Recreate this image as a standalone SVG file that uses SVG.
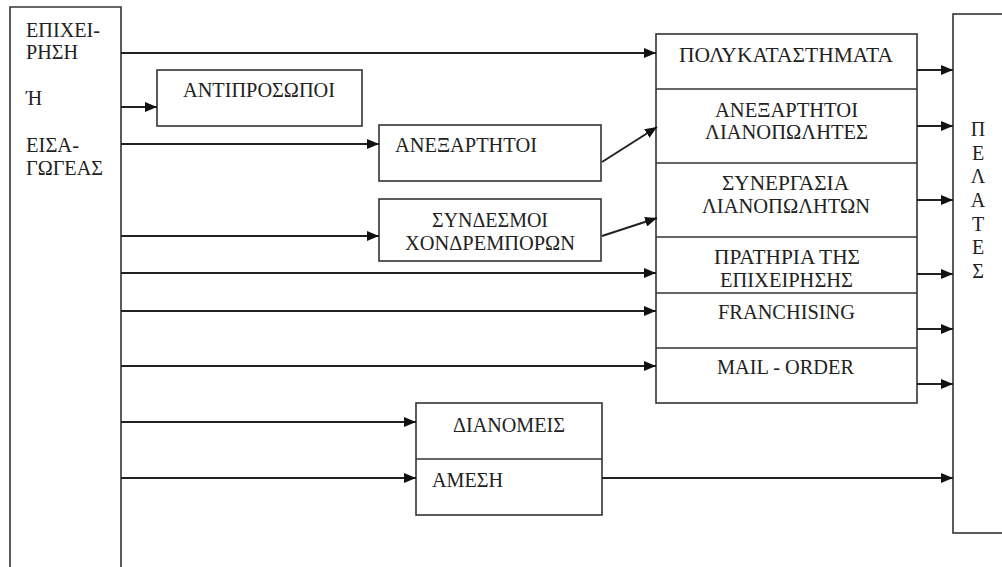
<svg xmlns="http://www.w3.org/2000/svg" width="1002" height="567" viewBox="0 0 1002 567">
<defs>
<style>
.box{fill:#fff;stroke:#333;stroke-width:1.6}
.ln{fill:none;stroke:#222;stroke-width:2}
.t{font-family:'Liberation Serif','DejaVu Serif',serif;font-size:20px;fill:#222}
.c{text-anchor:middle}
</style>
<marker id="ah" viewBox="0 0 12 10" refX="12" refY="5" markerWidth="12" markerHeight="10" markerUnits="userSpaceOnUse" orient="auto">
<path d="M0,0 L12,5 L0,10 Z" fill="#111"/>
</marker>
</defs>
<rect width="1002" height="567" fill="#fff"/>

<g id="source">
<path class="box" d="M10,570 V7 H121 V570"/>
<text class="t" x="26" y="37" textLength="74" lengthAdjust="spacingAndGlyphs">ΕΠΙΧΕΙ-</text>
<text class="t" x="26" y="59" textLength="52" lengthAdjust="spacingAndGlyphs">ΡΗΣΗ</text>
<text class="t" x="26" y="105">Ή</text>
<text class="t" x="26" y="152" textLength="53" lengthAdjust="spacingAndGlyphs">ΕΙΣΑ-</text>
<text class="t" x="26" y="175" textLength="77" lengthAdjust="spacingAndGlyphs">ΓΩΓΕΑΣ</text>
</g>

<g id="customers">
<rect class="box" x="953" y="14" width="60" height="519"/>
<text class="t c" x="978" y="136">Π</text>
<text class="t c" x="978" y="160">Ε</text>
<text class="t c" x="978" y="183">Λ</text>
<text class="t c" x="978" y="207">Α</text>
<text class="t c" x="978" y="231">Τ</text>
<text class="t c" x="978" y="254">Ε</text>
<text class="t c" x="978" y="278">Σ</text>
</g>

<g id="antiprosopoi">
<rect class="box" x="157" y="70" width="205" height="56"/>
<text class="t" x="183" y="97" textLength="152" lengthAdjust="spacingAndGlyphs">ΑΝΤΙΠΡΟΣΩΠΟΙ</text>
</g>

<g id="anexartitoi">
<rect class="box" x="379" y="125" width="222" height="56"/>
<text class="t" x="395" y="152" textLength="142" lengthAdjust="spacingAndGlyphs">ΑΝΕΞΑΡΤΗΤΟΙ</text>
</g>

<g id="syndesmoi">
<rect class="box" x="379" y="199" width="222" height="62"/>
<text class="t" x="432" y="227" textLength="116" lengthAdjust="spacingAndGlyphs">ΣΥΝΔΕΣΜΟΙ</text>
<text class="t" x="405" y="250" textLength="170" lengthAdjust="spacingAndGlyphs">ΧΟΝΔΡΕΜΠΟΡΩΝ</text>
</g>

<g id="retail-column">
<rect class="box" x="656" y="34" width="261" height="369"/>
<line class="box" x1="656" y1="89" x2="917" y2="89"/>
<line class="box" x1="656" y1="163" x2="917" y2="163"/>
<line class="box" x1="656" y1="237" x2="917" y2="237"/>
<line class="box" x1="656" y1="293" x2="917" y2="293"/>
<line class="box" x1="656" y1="348" x2="917" y2="348"/>
</g>
<g id="polykatastimata"><text class="t" x="679" y="62" textLength="214" lengthAdjust="spacingAndGlyphs">ΠΟΛΥΚΑΤΑΣΤΗΜΑΤΑ</text></g>
<g id="anexartitoi-lianopolites">
<text class="t" x="715" y="117" textLength="143" lengthAdjust="spacingAndGlyphs">ΑΝΕΞΑΡΤΗΤΟΙ</text>
<text class="t" x="705" y="139" textLength="163" lengthAdjust="spacingAndGlyphs">ΛΙΑΝΟΠΩΛΗΤΕΣ</text>
</g>
<g id="synergasia">
<text class="t" x="722" y="190" textLength="127" lengthAdjust="spacingAndGlyphs">ΣΥΝΕΡΓΑΣΙΑ</text>
<text class="t" x="702" y="213" textLength="168" lengthAdjust="spacingAndGlyphs">ΛΙΑΝΟΠΩΛΗΤΩΝ</text>
</g>
<g id="pratiria">
<text class="t" x="714" y="264" textLength="146" lengthAdjust="spacingAndGlyphs">ΠΡΑΤΗΡΙΑ ΤΗΣ</text>
<text class="t" x="720" y="287" textLength="133" lengthAdjust="spacingAndGlyphs">ΕΠΙΧΕΙΡΗΣΗΣ</text>
</g>
<g id="franchising"><text class="t" x="718" y="319" textLength="137" lengthAdjust="spacingAndGlyphs">FRANCHISING</text></g>
<g id="mail-order"><text class="t" x="717" y="374" textLength="137" lengthAdjust="spacingAndGlyphs">MAIL - ORDER</text></g>

<g id="dianomeis">
<rect class="box" x="416" y="403" width="186" height="112"/>
<line class="box" x1="416" y1="459" x2="602" y2="459"/>
<text class="t" x="453" y="432" textLength="112" lengthAdjust="spacingAndGlyphs">ΔΙΑΝΟΜΕΙΣ</text>
</g>
<g id="amesi"><text class="t" x="432" y="487" textLength="71" lengthAdjust="spacingAndGlyphs">ΑΜΕΣΗ</text></g>

<g id="connectors">
<line class="ln" x1="121" y1="53" x2="656" y2="53" marker-end="url(#ah)"/>
<line class="ln" x1="121" y1="107" x2="157" y2="107" marker-end="url(#ah)"/>
<line class="ln" x1="121" y1="144" x2="379" y2="144" marker-end="url(#ah)"/>
<line class="ln" x1="121" y1="236" x2="379" y2="236" marker-end="url(#ah)"/>
<line class="ln" x1="121" y1="273" x2="656" y2="273" marker-end="url(#ah)"/>
<line class="ln" x1="121" y1="311" x2="656" y2="311" marker-end="url(#ah)"/>
<line class="ln" x1="121" y1="366" x2="656" y2="366" marker-end="url(#ah)"/>
<line class="ln" x1="121" y1="422" x2="416" y2="422" marker-end="url(#ah)"/>
<line class="ln" x1="121" y1="478" x2="416" y2="478" marker-end="url(#ah)"/>
<line class="ln" x1="602" y1="162" x2="657" y2="127" marker-end="url(#ah)"/>
<line class="ln" x1="602" y1="236" x2="657" y2="218" marker-end="url(#ah)"/>
<line class="ln" x1="917" y1="70" x2="953" y2="70" marker-end="url(#ah)"/>
<line class="ln" x1="917" y1="126" x2="953" y2="126" marker-end="url(#ah)"/>
<line class="ln" x1="917" y1="200" x2="953" y2="200" marker-end="url(#ah)"/>
<line class="ln" x1="917" y1="274" x2="953" y2="274" marker-end="url(#ah)"/>
<line class="ln" x1="917" y1="329" x2="953" y2="329" marker-end="url(#ah)"/>
<line class="ln" x1="917" y1="384" x2="953" y2="384" marker-end="url(#ah)"/>
<line class="ln" x1="602" y1="478" x2="953" y2="478" marker-end="url(#ah)"/>
</g>
</svg>
